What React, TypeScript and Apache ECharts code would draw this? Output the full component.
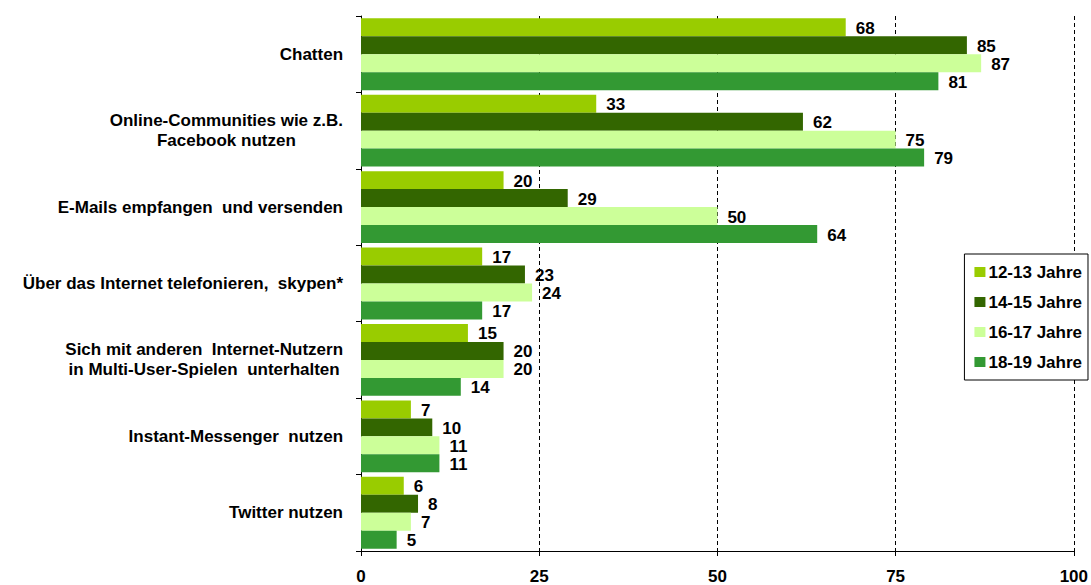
import React, { useEffect, useRef } from "react";
import * as echarts from "echarts";

const categories = [
  "Chatten",
  "Online-Communities wie z.B.\nFacebook nutzen",
  "E-Mails empfangen  und versenden",
  "Über das Internet telefonieren,  skypen*",
  "Sich mit anderen  Internet-Nutzern\nin Multi-User-Spielen  unterhalten",
  "Instant-Messenger  nutzen",
  "Twitter nutzen",
];
const seriesNames = ["12-13 Jahre", "14-15 Jahre", "16-17 Jahre", "18-19 Jahre"];
const age1213 = [68, 33, 20, 17, 15, 7, 6];
const age1415 = [85, 62, 29, 23, 20, 10, 8];
const age1617 = [87, 75, 50, 24, 20, 11, 7];
const age1819 = [81, 79, 64, 17, 14, 11, 5];
const xTicks = { min: 0, max: 100, interval: 25 };

const colors = ["#99CC00", "#336600", "#CCFF99", "#339933"];
const FONT = "'Liberation Sans', Arial, sans-serif";
const FS = 17;

export default function App() {
  const ref = useRef<HTMLDivElement>(null);
  useEffect(() => {
    const chart = echarts.init(ref.current!, null, { renderer: "svg" });
    const values = [age1213, age1415, age1617, age1819];
    chart.setOption({
      animation: false,
      backgroundColor: "#ffffff",
      textStyle: { fontFamily: FONT },
      grid: { left: 361, right: 17, top: 16, bottom: 32, containLabel: false },
      legend: {
        orient: "vertical",
        right: 3,
        top: 254,
        icon: "rect",
        itemWidth: 11,
        itemHeight: 10,
        itemGap: 10,
        padding: [8, 6, 8, 10],
        borderColor: "#000",
        borderWidth: 1,
        backgroundColor: "#fff",
        textStyle: {
          fontFamily: FONT,
          fontWeight: "bold",
          fontSize: FS,
          lineHeight: 20,
          color: "#000",
          padding: [0, 0, 0, -2],
        },
        data: seriesNames,
      },
      xAxis: {
        type: "value",
        min: xTicks.min,
        max: xTicks.max,
        interval: xTicks.interval,
        axisLine: { show: true, lineStyle: { color: "#000", width: 1 } },
        axisTick: { show: true, length: 5, lineStyle: { color: "#000" } },
        splitLine: { show: true, lineStyle: { color: "#000", type: [4, 3], width: 1 } },
        axisLabel: { color: "#000", fontWeight: "bold", fontSize: FS, margin: 17, fontFamily: FONT },
      },
      yAxis: {
        type: "category",
        inverse: true,
        data: categories,
        axisLine: { show: true, lineStyle: { color: "#000", width: 1 } },
        axisTick: { show: true, length: 5, lineStyle: { color: "#000" } },
        axisLabel: {
          color: "#000",
          margin: 18,
          formatter: (v: string) => v.split("\n").map((l) => `{c|${l}}`).join("\n"),
          rich: {
            c: { align: "center", fontWeight: "bold", fontSize: FS, fontFamily: FONT, color: "#000", lineHeight: 20 },
          },
        },
      },
      series: seriesNames.map((name, i) => ({
        name,
        type: "bar",
        data: values[i],
        barGap: "0%",
        barCategoryGap: "6%",
        itemStyle: { color: colors[i] },
        label: {
          show: true,
          position: "right",
          distance: 10,
          offset: [0, 1],
          color: "#000",
          fontWeight: "bold",
          fontSize: FS,
          fontFamily: FONT,
        },
      })),
    });
    return () => chart.dispose();
  }, []);
  return <div ref={ref} style={{ width: 1091, height: 585, position: "absolute", left: 0, top: 0 }} />;
}
